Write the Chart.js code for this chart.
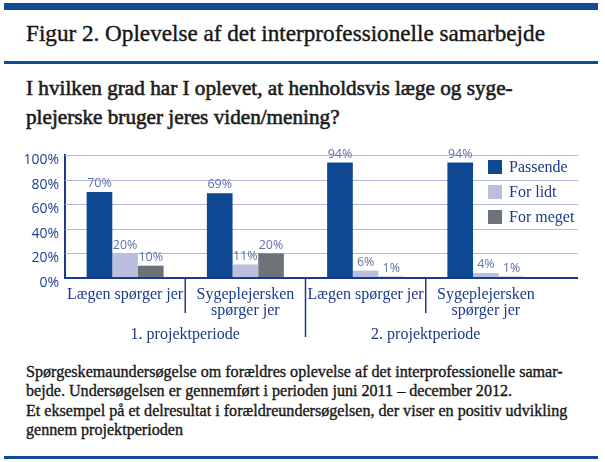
<!DOCTYPE html>
<html>
<head>
<meta charset="utf-8">
<script src="https://cdn.jsdelivr.net/npm/chart.js@4.4.1/dist/chart.umd.min.js"></script>
<style>
  body { margin: 0; width: 605px; height: 462px; background: #fff; position: relative; overflow: hidden; }
  .rule { position: absolute; left: 4px; width: 594px; background: #134a96; }
  .txt { position: absolute; left: 26px; white-space: nowrap; font-family: 'Liberation Serif', serif; color: #171717; -webkit-text-stroke: 0.35px #171717; }
  #wrap { position: absolute; left: 0; top: 140px; width: 605px; height: 210px; }
  canvas { display: block; }
</style>
</head>
<body>
<div class="rule" style="top:3px;height:7px"></div>
<div class="txt" id="heading" data-w="519" data-base="42" data-lh="1.2" style="font-size:21px;-webkit-text-stroke:0.4px #171717">Figur 2. Oplevelse af det interprofessionelle samarbejde</div>
<div class="rule" style="top:61px;height:3px"></div>
<div class="txt" id="question" data-w="487" data-base="96" data-lh="29" style="font-size:19px;color:#1c1c1c;-webkit-text-stroke:0.6px #1c1c1c"><div>I hvilken grad har I oplevet, at henholdsvis læge og syge-</div><div>plejerske bruger jeres viden/mening?</div></div>
<div id="wrap"><canvas id="chart" width="605" height="210"></canvas></div>
<div class="txt" id="note" data-w="537" data-base="377" data-lh="19.3" style="font-size:15px"><div>Spørgeskemaundersøgelse om forældres oplevelse af det interprofessionelle samar-</div><div>bejde. Undersøgelsen er gennemført i perioden juni 2011 – december 2012.</div><div>Et eksempel på et delresultat i forældreundersøgelsen, der viser en positiv udvikling</div><div>gennem projektperioden</div></div>
<div class="rule" style="top:456px;height:3px"></div>
<script>
const categories = [["Lægen spørger jer"], ["Sygeplejersken", "spørger jer"], ["Lægen spørger jer"], ["Sygeplejersken", "spørger jer"]];
const periods = ["1. projektperiode", "2. projektperiode"];
const seriesNames = ["Passende", "For lidt", "For meget"];
const passende = [70, 69, 94, 94];
const forLidt = [20, 11, 6, 4];
const forMeget = [10, 20, 1, 1];

const blue = "#1c3a8a";
const gridColor = "#b3b9e0";
const serif = "'Liberation Serif', serif";
const sans = "'Open Sans', sans-serif";

// fit the text blocks to the reference width, then put the baseline in place
const mctx = document.createElement("canvas").getContext("2d");
document.querySelectorAll(".txt").forEach(el => {
  const cs = getComputedStyle(el);
  const first = el.firstElementChild ? el.firstElementChild.textContent : el.textContent;
  mctx.font = cs.fontSize + " " + serif;
  const fs = parseFloat(cs.fontSize) * el.dataset.w / mctx.measureText(first).width;
  let lh = parseFloat(el.dataset.lh);
  if (lh < 5) lh = lh * fs;
  el.style.fontSize = fs + "px";
  el.style.lineHeight = lh + "px";
  el.style.top = (el.dataset.base - ((lh - 1.107 * fs) / 2 + 0.891 * fs)) + "px";
});

const extras = {
  id: "extras",
  beforeDatasetsDraw(chart) {
    const {ctx, chartArea, scales: {y}} = chart;
    ctx.save();
    ctx.strokeStyle = gridColor;
    ctx.lineWidth = 1;
    y.ticks.forEach(t => {
      if (t.value === 0) return;
      const py = Math.round(y.getPixelForValue(t.value)) + 0.5;
      ctx.beginPath();
      ctx.moveTo(chartArea.left, py);
      ctx.lineTo(chartArea.right + 32, py);
      ctx.stroke();
    });
    ctx.restore();
  },
  afterDatasetsDraw(chart) {
    const {ctx, chartArea, scales: {x, y}} = chart;
    const y0 = y.getPixelForValue(0);
    ctx.save();
    // base line
    ctx.strokeStyle = blue;
    ctx.lineWidth = 2;
    ctx.beginPath();
    ctx.moveTo(chartArea.left - 1, y0);
    ctx.lineTo(chartArea.right + 32, y0);
    ctx.stroke();
    // category separators
    ctx.lineWidth = 1.5;
    for (let i = 1; i < categories.length; i++) {
      const px = (x.getPixelForValue(i - 1) + x.getPixelForValue(i)) / 2;
      ctx.beginPath();
      ctx.moveTo(px, y0);
      ctx.lineTo(px, y0 + (i === 2 ? 59 : 35));
      ctx.stroke();
    }
    // value labels
    ctx.fillStyle = "#5f72a8";
    ctx.font = "12.5px " + sans;
    ctx.textAlign = "center";
    ctx.textBaseline = "bottom";
    chart.data.datasets.forEach((ds, di) => {
      chart.getDatasetMeta(di).data.forEach((bar, i) => {
        ctx.fillText(ds.data[i] + "%", bar.x, bar.y - 2);
      });
    });
    // legend
    ctx.font = "16px " + serif;
    ctx.textAlign = "left";
    ctx.textBaseline = "middle";
    chart.data.datasets.forEach((ds, di) => {
      const cy = 27 + di * 25;
      ctx.fillStyle = ds.backgroundColor;
      ctx.fillRect(488, cy - 7, 14, 14);
      ctx.fillStyle = blue;
      ctx.fillText(ds.label, 509, cy + 1);
    });
    ctx.restore();
  }
};

new Chart("chart", {
  type: "bar",
  data: {
    labels: categories,
    datasets: [
      {label: seriesNames[0], data: passende, backgroundColor: "#0e4792"},
      {label: seriesNames[1], data: forLidt, backgroundColor: "#b9bfdc"},
      {label: seriesNames[2], data: forMeget, backgroundColor: "#6c7278"}
    ]
  },
  options: {
    responsive: false,
    animation: false,
    layout: {padding: {top: 15, right: 59, left: 0, bottom: 0}},
    datasets: {bar: {barPercentage: 1, categoryPercentage: 0.64}},
    plugins: {legend: {display: false}, tooltip: {enabled: false}},
    scales: {
      y: {
        min: 0, max: 100,
        afterFit(s) { s.width = 65; },
        grid: {display: false, drawTicks: false},
        border: {color: blue, width: 2},
        ticks: {stepSize: 20, padding: 6, labelOffset: 5, color: "#1d3f8f",
                font: {family: sans, size: 14}, callback: v => v + "%"}
      },
      x: {
        weight: 0,
        afterFit(s) { s.height = 46; },
        grid: {display: false, drawTicks: false},
        border: {display: false},
        ticks: {padding: 9, color: blue, maxRotation: 0, minRotation: 0, autoSkip: false,
                font: {family: serif, size: 16, lineHeight: 1.0}}
      },
      x2: {
        type: "category",
        labels: periods,
        position: "bottom",
        weight: 1,
        offset: true,
        afterFit(s) { s.height = 26; },
        grid: {display: false, drawTicks: false},
        border: {display: false},
        ticks: {padding: 1, color: blue, maxRotation: 0, minRotation: 0, autoSkip: false,
                font: {family: serif, size: 16}}
      }
    }
  },
  plugins: [extras]
});
</script>
</body>
</html>
